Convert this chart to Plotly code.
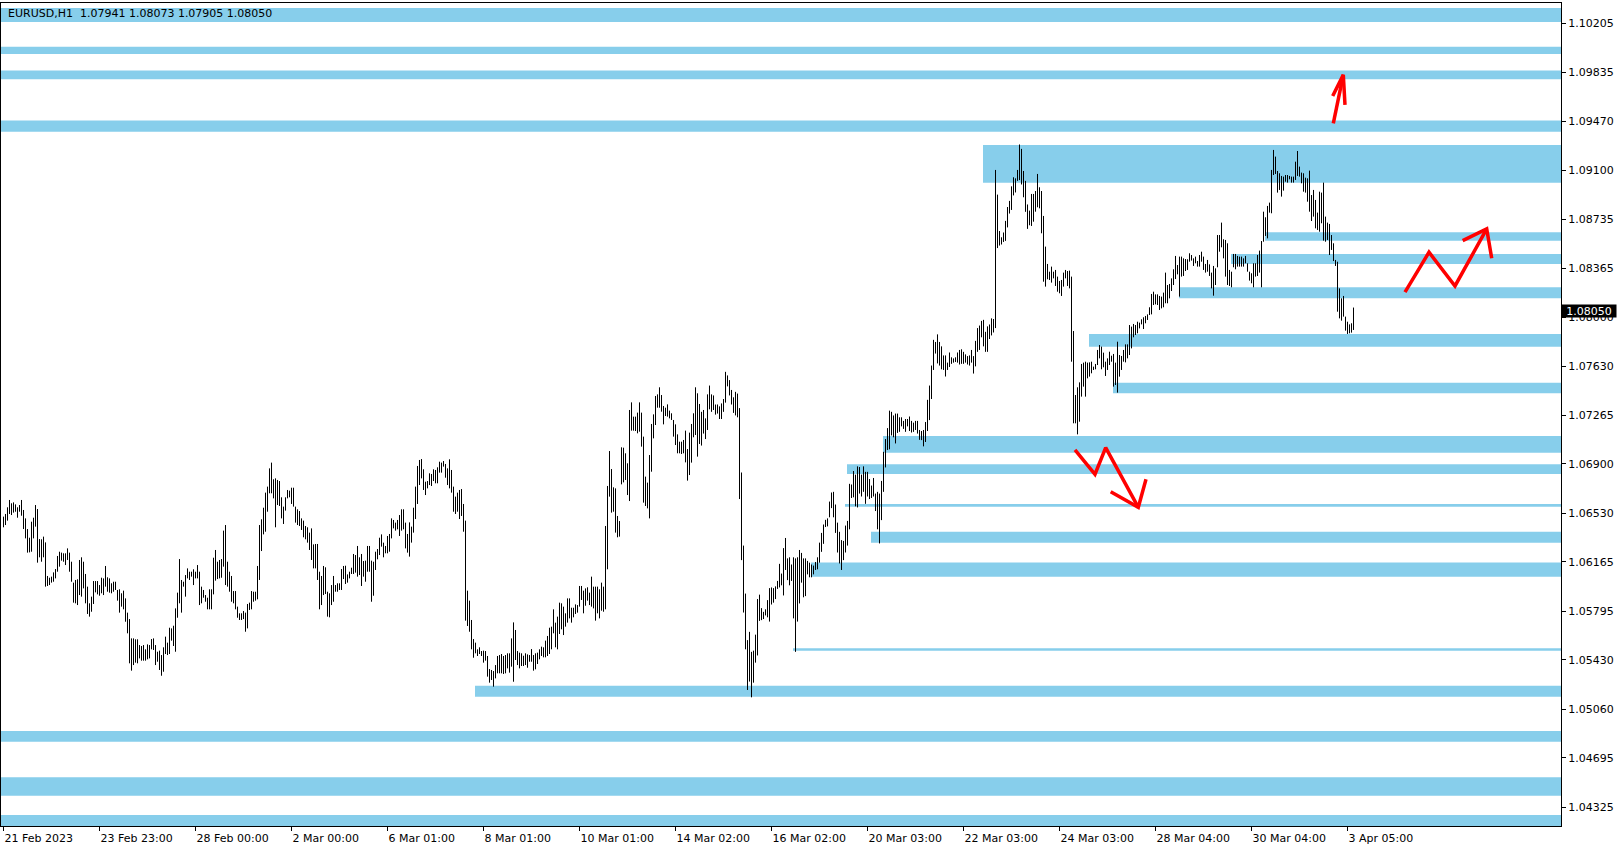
import plotly.graph_objects as go

# ---------------- data ----------------
symbol_title = "EURUSD,H1\u00a0\u00a01.07941 1.08073 1.07905 1.08050"
last_price = 1.08050

time_tick_bars = [0, 48, 96, 144, 192, 240, 288, 336, 384, 432, 480, 528, 576, 624, 672]
time_tick_labels = ["21 Feb 2023", "23 Feb 23:00", "28 Feb 00:00", "2 Mar 00:00", "6 Mar 01:00",
                    "8 Mar 01:00", "10 Mar 01:00", "14 Mar 02:00", "16 Mar 02:00", "20 Mar 03:00",
                    "22 Mar 03:00", "24 Mar 03:00", "28 Mar 04:00", "30 Mar 04:00", "3 Apr 05:00"]

price_ticks = [1.10205, 1.09835, 1.09470, 1.09100, 1.08735, 1.08365, 1.08000, 1.07630, 1.07265,
               1.06900, 1.06530, 1.06165, 1.05795, 1.05430, 1.05060, 1.04695, 1.04325]

bar_high = [
    1.06505, 1.06525, 1.06575, 1.06630, 1.06605, 1.06612, 1.06597, 1.06575, 1.06592, 1.06630,
    1.06555, 1.06492, 1.06412, 1.06347, 1.06467, 1.06497, 1.06592, 1.06562, 1.06337, 1.06335,
    1.06355, 1.06312, 1.06060, 1.06047, 1.06055, 1.06087, 1.06112, 1.06210, 1.06242, 1.06235,
    1.06230, 1.06230, 1.06267, 1.06235, 1.06167, 1.06010, 1.06030, 1.06035, 1.06180, 1.06200,
    1.06167, 1.06075, 1.05980, 1.05855, 1.05905, 1.06022, 1.06022, 1.06022, 1.05992, 1.06047,
    1.06042, 1.06135, 1.06050, 1.06042, 1.06005, 1.06017, 1.06017, 1.05955, 1.05960, 1.05930,
    1.05950, 1.05892, 1.05785, 1.05737, 1.05592, 1.05592, 1.05585, 1.05585, 1.05542, 1.05535,
    1.05542, 1.05510, 1.05547, 1.05542, 1.05587, 1.05592, 1.05542, 1.05492, 1.05500, 1.05467,
    1.05525, 1.05605, 1.05560, 1.05672, 1.05667, 1.05687, 1.05817, 1.05935, 1.06187, 1.06030,
    1.06017, 1.06067, 1.06117, 1.06092, 1.06092, 1.06110, 1.06092, 1.06142, 1.06092, 1.05980,
    1.05955, 1.05917, 1.05897, 1.05960, 1.05960, 1.06197, 1.06255, 1.06167, 1.06180, 1.06187,
    1.06400, 1.06442, 1.06167, 1.06092, 1.06060, 1.05947, 1.05947, 1.05830, 1.05780, 1.05780,
    1.05797, 1.05785, 1.05850, 1.05860, 1.05947, 1.05942, 1.05942, 1.06135, 1.06442, 1.06485,
    1.06572, 1.06685, 1.06730, 1.06867, 1.06910, 1.06785, 1.06792, 1.06780, 1.06772, 1.06650,
    1.06580, 1.06650, 1.06705, 1.06700, 1.06722, 1.06722, 1.06580, 1.06560, 1.06547, 1.06492,
    1.06475, 1.06435, 1.06425, 1.06385, 1.06417, 1.06297, 1.06300, 1.06300, 1.06092, 1.06060,
    1.06135, 1.06125, 1.05942, 1.05930, 1.05992, 1.06060, 1.05992, 1.06005, 1.06005,
    1.06112, 1.06135, 1.06137, 1.06072, 1.06092, 1.06122, 1.06225, 1.06217, 1.06285, 1.06200,
    1.06225, 1.06172, 1.06175, 1.06285, 1.06285, 1.06175, 1.06167, 1.06242, 1.06262, 1.06347,
    1.06372, 1.06310, 1.06285, 1.06360, 1.06375, 1.06492, 1.06480, 1.06460, 1.06480, 1.06517,
    1.06560, 1.06560, 1.06460, 1.06375, 1.06462, 1.06430, 1.06572, 1.06730, 1.06885, 1.06930,
    1.06937, 1.06860, 1.06767, 1.06772, 1.06830, 1.06825, 1.06860, 1.06855, 1.06875, 1.06917,
    1.06910, 1.06922, 1.06900, 1.06867, 1.06935, 1.06855, 1.06730, 1.06655, 1.06685, 1.06705,
    1.06712, 1.06600, 1.06475, 1.05950, 1.05875, 1.05730, 1.05587, 1.05560, 1.05510, 1.05525,
    1.05497, 1.05500, 1.05497, 1.05460, 1.05362, 1.05355, 1.05347, 1.05392, 1.05460, 1.05467,
    1.05475, 1.05460, 1.05467, 1.05480, 1.05480, 1.05592, 1.05712, 1.05655, 1.05497, 1.05485,
    1.05480, 1.05462, 1.05480, 1.05472, 1.05467, 1.05512, 1.05467, 1.05480, 1.05485, 1.05510,
    1.05530, 1.05525, 1.05575, 1.05610, 1.05672, 1.05680, 1.05810, 1.05710, 1.05755, 1.05860,
    1.05855, 1.05830, 1.05780, 1.05892, 1.05892, 1.05822, 1.05822, 1.05847, 1.05842, 1.05985,
    1.05985, 1.05950, 1.05967, 1.05975, 1.05935, 1.06055, 1.05980, 1.05980, 1.05980, 1.05960,
    1.06010, 1.05980, 1.06435, 1.06735, 1.06997, 1.06862, 1.06725, 1.06717, 1.06510, 1.06472,
    1.07025, 1.07022, 1.06980, 1.06905, 1.07305, 1.07362, 1.07255, 1.07255, 1.07285, 1.07362,
    1.07285, 1.07105, 1.06805, 1.06760, 1.06967, 1.07200, 1.07272, 1.07410, 1.07422, 1.07475,
    1.07417, 1.07335, 1.07322, 1.07347, 1.07300, 1.07280, 1.07230, 1.07197, 1.07122, 1.07067,
    1.07067, 1.07080, 1.07150, 1.07012, 1.07135, 1.07200, 1.07280, 1.07475, 1.07430,
    1.07350,
    1.07291, 1.07305, 1.07242, 1.07422, 1.07488, 1.07422, 1.07414, 1.07346, 1.07346, 1.07332,
    1.07354, 1.07387, 1.07591, 1.07564, 1.07529, 1.07455, 1.07400, 1.07441, 1.07428, 1.07319,
    1.06836, 1.06288, 1.05928, 1.05579, 1.05641, 1.05491, 1.05500, 1.05620, 1.05887, 1.05920,
    1.05819, 1.05791, 1.05810, 1.05879, 1.05969, 1.05974, 1.05969, 1.05982, 1.06023, 1.06151,
    1.06078, 1.06269, 1.06345, 1.06192, 1.06200, 1.06146, 1.06200, 1.06192, 1.06200, 1.06255,
    1.06233, 1.06192, 1.06192, 1.06173, 1.06160, 1.06146, 1.06138, 1.06165, 1.06200, 1.06310,
    1.06383, 1.06446, 1.06481, 1.06492, 1.06618, 1.06686, 1.06691, 1.06596, 1.06460, 1.06391,
    1.06329, 1.06323, 1.06438, 1.06473, 1.06751, 1.06746, 1.06847, 1.06820, 1.06882, 1.06877,
    1.06820, 1.06882, 1.06841, 1.06841, 1.06787, 1.06738, 1.06795, 1.06678, 1.06691, 1.06678,
    1.06773, 1.06991, 1.07087, 1.07169, 1.07300, 1.07291, 1.07264, 1.07278, 1.07278, 1.07250,
    1.07250, 1.07223, 1.07237, 1.07237, 1.07256, 1.07223, 1.07210, 1.07223, 1.07223, 1.07155,
    1.07147, 1.07155, 1.07215, 1.07381, 1.07488, 1.07638, 1.07831, 1.07815, 1.07872, 1.07815,
    1.07782, 1.07714, 1.07714, 1.07660, 1.07736, 1.07700, 1.07692, 1.07700, 1.07736, 1.07755,
    1.07760, 1.07741, 1.07722, 1.07709, 1.07714, 1.07755, 1.07709, 1.07823, 1.07919, 1.07938,
    1.07973, 1.07981, 1.07891, 1.07932, 1.07946, 1.07992, 1.07987, 1.09105, 1.08920, 1.08647,
    1.08600, 1.08636, 1.08723, 1.08827, 1.08873, 1.08982, 1.09050, 1.09042, 1.09105, 1.09296,
    1.09263, 1.09097, 1.09023, 1.08846, 1.08800,
    1.08925, 1.08925, 1.08947, 1.09075, 1.08975, 1.08947, 1.08760, 1.08530, 1.08400, 1.08342,
    1.08380, 1.08342, 1.08355, 1.08305, 1.08272, 1.08280, 1.08335, 1.08355, 1.08347, 1.08350,
    1.08305, 1.07897, 1.07417, 1.07475, 1.07512, 1.07650, 1.07660, 1.07667, 1.07660, 1.07662,
    1.07667, 1.07630, 1.07650, 1.07755, 1.07792, 1.07780, 1.07735, 1.07667, 1.07692, 1.07742,
    1.07712, 1.07725, 1.07660, 1.07817, 1.07717, 1.07710, 1.07755, 1.07797, 1.07797, 1.07942,
    1.07930, 1.07950, 1.07942, 1.07967, 1.07960, 1.07985, 1.08000, 1.08010, 1.08022, 1.08075,
    1.08175, 1.08192, 1.08172, 1.08172, 1.08160, 1.08155, 1.08185, 1.08335, 1.08242, 1.08250,
    1.08292, 1.08360, 1.08460, 1.08392, 1.08455, 1.08455, 1.08442, 1.08437, 1.08435, 1.08480,
    1.08467, 1.08442, 1.08455, 1.08422, 1.08467, 1.08492, 1.08455, 1.08400, 1.08430, 1.08397,
    1.08335, 1.08385, 1.08367, 1.08617, 1.08617, 1.08710, 1.08585, 1.08580, 1.08555, 1.08355,
    1.08342, 1.08475, 1.08475, 1.08460, 1.08455, 1.08455, 1.08442, 1.08460, 1.08405, 1.08342,
    1.08330, 1.08405, 1.08405, 1.08467, 1.08500, 1.08572, 1.08792, 1.08750, 1.08835, 1.08860,
    1.09105, 1.09255, 1.09205, 1.09097, 1.09080, 1.09060, 1.09055, 1.09067, 1.09067, 1.09060,
    1.09055, 1.09055, 1.09167, 1.09247, 1.09130, 1.09085, 1.09080, 1.09047, 1.09042, 1.09100,
    1.08917, 1.08955, 1.08880, 1.08785, 1.08942, 1.08935, 1.09010, 1.08755, 1.08710, 1.08700,
    1.08617, 1.08555, 1.08430, 1.08417, 1.08217, 1.08142, 1.08160, 1.08005, 1.07967, 1.07947,
    1.07955, 1.08073,
]

bar_low = [
    1.06425, 1.06442, 1.06475, 1.06525, 1.06517, 1.06535, 1.06542, 1.06497, 1.06542, 1.06512,
    1.06412, 1.06342, 1.06235, 1.06237, 1.06242, 1.06342, 1.06430, 1.06160, 1.06200, 1.06167,
    1.06200, 1.05980, 1.05985, 1.05992, 1.06010, 1.06017, 1.06042, 1.06092, 1.06130, 1.06175,
    1.06167, 1.06142, 1.06180, 1.06092, 1.06017, 1.05860, 1.05855, 1.05842, 1.05917, 1.05905,
    1.05967, 1.05855, 1.05775, 1.05755, 1.05792, 1.05850, 1.05937, 1.05922, 1.05912, 1.05930,
    1.05917, 1.05980, 1.05942, 1.05935, 1.05930, 1.05942, 1.05955, 1.05875, 1.05785, 1.05830,
    1.05810, 1.05717, 1.05630, 1.05405, 1.05350, 1.05392, 1.05410, 1.05405, 1.05442, 1.05425,
    1.05425, 1.05425, 1.05435, 1.05442, 1.05510, 1.05505, 1.05392, 1.05417, 1.05355, 1.05312,
    1.05342, 1.05475, 1.05467, 1.05475, 1.05575, 1.05535, 1.05492, 1.05747, 1.05855, 1.05785,
    1.05980, 1.05905, 1.06042, 1.06030, 1.06055, 1.05992, 1.06042, 1.06042, 1.05842, 1.05855,
    1.05897, 1.05867, 1.05810, 1.05810, 1.05810, 1.05922, 1.06025, 1.06037, 1.06042, 1.06047,
    1.06130, 1.05992, 1.05980, 1.05942, 1.05867, 1.05855, 1.05810, 1.05747, 1.05730, 1.05730,
    1.05737, 1.05642, 1.05667, 1.05805, 1.05810, 1.05867, 1.05875, 1.05885, 1.06030, 1.06247,
    1.06372, 1.06392, 1.06542, 1.06680, 1.06680, 1.06642, 1.06425, 1.06592, 1.06585, 1.06492,
    1.06450, 1.06550, 1.06642, 1.06650, 1.06600, 1.06580, 1.06460, 1.06442, 1.06435, 1.06405,
    1.06350, 1.06335, 1.06310, 1.06255, 1.06180, 1.06117, 1.06117, 1.06030, 1.05810, 1.05842,
    1.05917, 1.05925, 1.05755, 1.05750, 1.05842, 1.05867, 1.05942, 1.05942, 1.05955,
    1.05955, 1.06037, 1.06000, 1.06010, 1.06042, 1.06075, 1.06075, 1.06085, 1.06055, 1.06067,
    1.05985, 1.06055, 1.06017, 1.06092, 1.06092, 1.05867, 1.05912, 1.06105, 1.06185, 1.06217,
    1.06280, 1.06200, 1.06230, 1.06230, 1.06242, 1.06342, 1.06417, 1.06400, 1.06410, 1.06360,
    1.06400, 1.06410, 1.06267, 1.06235, 1.06205, 1.06310, 1.06385, 1.06487, 1.06600, 1.06742,
    1.06792, 1.06705, 1.06667, 1.06717, 1.06742, 1.06735, 1.06772, 1.06755, 1.06755, 1.06835,
    1.06835, 1.06880, 1.06797, 1.06742, 1.06717, 1.06685, 1.06542, 1.06525, 1.06542, 1.06487,
    1.06510, 1.06392, 1.05725, 1.05685, 1.05642, 1.05510, 1.05447, 1.05480, 1.05460, 1.05475,
    1.05460, 1.05410, 1.05425, 1.05305, 1.05260, 1.05280, 1.05230, 1.05292, 1.05330, 1.05330,
    1.05330, 1.05325, 1.05330, 1.05367, 1.05335, 1.05380, 1.05267, 1.05430, 1.05392, 1.05367,
    1.05385, 1.05385, 1.05392, 1.05372, 1.05417, 1.05417, 1.05350, 1.05360, 1.05400, 1.05435,
    1.05460, 1.05450, 1.05450, 1.05460, 1.05475, 1.05510, 1.05630, 1.05525, 1.05510, 1.05625,
    1.05660, 1.05617, 1.05680, 1.05710, 1.05742, 1.05710, 1.05750, 1.05775, 1.05785, 1.05830,
    1.05880, 1.05780, 1.05837, 1.05875, 1.05842, 1.05830, 1.05817, 1.05725, 1.05780, 1.05742,
    1.05800, 1.05792, 1.05810, 1.06110, 1.06655, 1.06535, 1.06542, 1.06385, 1.06350, 1.06355,
    1.06747, 1.06762, 1.06780, 1.06667, 1.06622, 1.07150, 1.07150, 1.07147, 1.07130, 1.07142,
    1.07030, 1.06610, 1.06585, 1.06567, 1.06492, 1.06842, 1.07092, 1.07192, 1.07322, 1.07322,
    1.07292, 1.07197, 1.07260, 1.07255, 1.07242, 1.07230, 1.07105, 1.07042, 1.06980, 1.06980,
    1.06975, 1.06980, 1.06912, 1.06775, 1.06817, 1.06910, 1.07100, 1.07117, 1.06955,
    1.07050,
    1.07038, 1.07128, 1.07087, 1.07155, 1.07310, 1.07291, 1.07305, 1.07270, 1.07278, 1.07237,
    1.07237, 1.07291, 1.07360, 1.07482, 1.07414, 1.07346, 1.07283, 1.07264, 1.07250, 1.06637,
    1.06179, 1.05786, 1.05510, 1.05205, 1.05268, 1.05150, 1.05260, 1.05410, 1.05464, 1.05723,
    1.05729, 1.05737, 1.05764, 1.05750, 1.05718, 1.05846, 1.05860, 1.05887, 1.05963, 1.05974,
    1.05990, 1.05914, 1.06105, 1.06029, 1.05990, 1.06023, 1.05742, 1.05491, 1.05718, 1.05854,
    1.06010, 1.05900, 1.05909, 1.06072, 1.06050, 1.06050, 1.06072, 1.06105, 1.06110, 1.06160,
    1.06241, 1.06301, 1.06427, 1.06432, 1.06500, 1.06569, 1.06500, 1.06383, 1.06236, 1.06154,
    1.06105, 1.06179, 1.06236, 1.06288, 1.06410, 1.06645, 1.06650, 1.06582, 1.06574, 1.06678,
    1.06656, 1.06691, 1.06601, 1.06656, 1.06637, 1.06645, 1.06656, 1.06547, 1.06410, 1.06304,
    1.06479, 1.06691, 1.06874, 1.07005, 1.07010, 1.07114, 1.07100, 1.07054, 1.07133, 1.07141,
    1.07182, 1.07163, 1.07141, 1.07182, 1.07147, 1.07136, 1.07141, 1.07155, 1.07128, 1.07081,
    1.07079, 1.07032, 1.07065, 1.07147, 1.07229, 1.07387, 1.07605, 1.07728, 1.07654, 1.07638,
    1.07610, 1.07605, 1.07556, 1.07605, 1.07627, 1.07651, 1.07660, 1.07665, 1.07660, 1.07646,
    1.07651, 1.07651, 1.07660, 1.07646, 1.07638, 1.07660, 1.07578, 1.07632, 1.07741, 1.07755,
    1.07850, 1.07782, 1.07741, 1.07741, 1.07837, 1.07864, 1.07886, 1.07919, 1.08519, 1.08538,
    1.08546, 1.08565, 1.08573, 1.08674, 1.08778, 1.08805, 1.08914, 1.08936, 1.09023, 1.09029,
    1.08996, 1.08900, 1.08791, 1.08663, 1.08690,
    1.08685, 1.08717, 1.08792, 1.08825, 1.08817, 1.08630, 1.08267, 1.08230, 1.08285, 1.08280,
    1.08260, 1.08292, 1.08235, 1.08192, 1.08180, 1.08160, 1.08230, 1.08292, 1.08235, 1.08217,
    1.07667, 1.07205, 1.07205, 1.07122, 1.07217, 1.07405, 1.07480, 1.07405, 1.07542, 1.07555,
    1.07580, 1.07605, 1.07610, 1.07642, 1.07692, 1.07610, 1.07625, 1.07560, 1.07605, 1.07642,
    1.07667, 1.07480, 1.07492, 1.07435, 1.07555, 1.07605, 1.07667, 1.07662, 1.07692, 1.07717,
    1.07767, 1.07850, 1.07867, 1.07880, 1.07917, 1.07947, 1.07912, 1.07955, 1.07980, 1.08017,
    1.08022, 1.08092, 1.08097, 1.08092, 1.08055, 1.08067, 1.08075, 1.08105, 1.08105, 1.08142,
    1.08197, 1.08242, 1.08287, 1.08322, 1.08155, 1.08305, 1.08310, 1.08347, 1.08355, 1.08417,
    1.08425, 1.08385, 1.08405, 1.08380, 1.08380, 1.08417, 1.08355, 1.08335, 1.08342, 1.08310,
    1.08217, 1.08162, 1.08242, 1.08375, 1.08492, 1.08525, 1.08442, 1.08305, 1.08242, 1.08235,
    1.08225, 1.08375, 1.08360, 1.08380, 1.08380, 1.08380, 1.08380, 1.08405, 1.08342, 1.08275,
    1.08255, 1.08225, 1.08305, 1.08310, 1.08335, 1.08225, 1.08567, 1.08610, 1.08592, 1.08785,
    1.08780, 1.09067, 1.09075, 1.08935, 1.08955, 1.08905, 1.08950, 1.09017, 1.09010, 1.09035,
    1.09010, 1.09010, 1.09030, 1.09060, 1.09055, 1.09005, 1.08942, 1.08935, 1.08867, 1.08792,
    1.08722, 1.08755, 1.08667, 1.08655, 1.08642, 1.08705, 1.08575, 1.08567, 1.08580, 1.08467,
    1.08505, 1.08422, 1.08385, 1.08042, 1.07992, 1.07975, 1.08005, 1.07900, 1.07875, 1.07880,
    1.07885, 1.07905,
]

# support / resistance zones: (low price, high price, first bar or None for full width)
zone_low = [1.10215, 1.09975, 1.09785, 1.09392, 1.09009, 1.08574, 1.08400, 1.08142, 1.07780, 1.07430,
            1.06985, 1.06825, 1.06580, 1.06309, 1.06054, 1.05500, 1.05155, 1.04817, 1.04412, 1.04180]
zone_high = [1.10320, 1.10029, 1.09850, 1.09475, 1.09292, 1.08637, 1.08475, 1.08225, 1.07875, 1.07510,
             1.07110, 1.06897, 1.06600, 1.06392, 1.06162, 1.05518, 1.05237, 1.04897, 1.04550, 1.04267]
zone_start = [None, None, None, None, 490, 631, 614, 588, 543, 555,
              440, 422, 421, 434, 404, 395, 236, None, None, None]

# hand-drawn red arrows (bar index, price)
arrow_up_shaft_x = [664.9, 669.9]
arrow_up_shaft_y = [1.09455, 1.09818]
arrow_up_head_x = [664.6, 669.9, 670.75]
arrow_up_head_y = [1.09660, 1.09818, 1.09593]

arrow_zig_x = [700.75, 712.75, 725.75, 741.6]
arrow_zig_y = [1.08188, 1.08488, 1.08235, 1.08663]
arrow_zig_head_x = [729.6, 741.6, 744.1]
arrow_zig_head_y = [1.08575, 1.08663, 1.08443]

arrow_down_x = [535.75, 545.75, 551.1, 567.4]
arrow_down_y = [1.07005, 1.06823, 1.07022, 1.06575]
arrow_down_head_x = [553.6, 567.4, 571.25]
arrow_down_head_y = [1.06692, 1.06575, 1.06785]

# ---------------- figure ----------------
X_MIN, X_MAX = -1.25, 778.75
Y_MIN, Y_MAX = 1.04185, 1.10357
ZONE_COLOR = "#87CEEB"
FONT = "DejaVu Sans"

fig = go.Figure()

# zones
for lo, hi, st in zip(zone_low, zone_high, zone_start):
    if st is None:
        fig.add_shape(type="rect", xref="paper", yref="y", x0=0, x1=1, y0=lo, y1=hi,
                      fillcolor=ZONE_COLOR, line=dict(width=0), layer="below")
    else:
        fig.add_shape(type="rect", xref="x", yref="y", x0=st - 0.25, x1=X_MAX, y0=lo, y1=hi,
                      fillcolor=ZONE_COLOR, line=dict(width=0), layer="below")

# bars (high-low vertical lines)
bx, by = [], []
for i, (h, l) in enumerate(zip(bar_high, bar_low)):
    bx += [i, i, None]
    by += [l, h, None]
fig.add_trace(go.Scatter(x=bx, y=by, mode="lines", line=dict(color="black", width=1),
                         connectgaps=False, hoverinfo="skip"))

# arrows
for ax_, ay_ in [(arrow_up_shaft_x, arrow_up_shaft_y), (arrow_up_head_x, arrow_up_head_y),
                 (arrow_zig_x, arrow_zig_y), (arrow_zig_head_x, arrow_zig_head_y),
                 (arrow_down_x, arrow_down_y), (arrow_down_head_x, arrow_down_head_y)]:
    fig.add_trace(go.Scatter(x=ax_, y=ay_, mode="lines", line=dict(color="#FF0000", width=3.5),
                             hoverinfo="skip"))

fig.update_layout(
    width=1624, height=850,
    margin=dict(l=1, r=63, t=3, b=24, pad=0),
    paper_bgcolor="white", plot_bgcolor="white",
    showlegend=False, hovermode=False,
    font=dict(family=FONT, size=11, color="black"),
)
fig.update_xaxes(
    range=[X_MIN, X_MAX], tickmode="array", tickvals=time_tick_bars, ticktext=time_tick_labels,
    ticks="outside", ticklen=4, tickcolor="black", tickwidth=1,
    showline=True, linecolor="black", linewidth=1, mirror=True,
    showgrid=False, zeroline=False, ticklabelposition="outside right",
    ticklabelstandoff=2,
    tickfont=dict(family=FONT, size=11, color="black"),
)
fig.update_yaxes(
    range=[Y_MIN, Y_MAX], side="right", tickmode="array", tickvals=price_ticks,
    ticktext=[f"{v:.5f}" for v in price_ticks],
    ticks="outside", ticklen=4, tickcolor="black", tickwidth=1,
    showline=True, linecolor="black", linewidth=1, mirror=True,
    showgrid=False, zeroline=False,
    tickfont=dict(family=FONT, size=11, color="black"),
)

# symbol caption
fig.add_annotation(text=symbol_title, xref="paper", yref="paper", x=0.003, y=0.9875,
                   xanchor="left", yanchor="middle", showarrow=False,
                   font=dict(family=FONT, size=11, color="black"))
# last price label
fig.add_annotation(text=f"{last_price:.5f}", xref="paper", yref="y", x=1, y=last_price,
                   xanchor="left", yanchor="middle", showarrow=False, bgcolor="black",
                   borderpad=0, width=54, height=12, align="center",
                   font=dict(family=FONT, size=11, color="white"))

fig.write_html("out.html", config={"displayModeBar": False},
               post_script="document.body.style.margin='0';document.body.style.overflow='hidden';")
